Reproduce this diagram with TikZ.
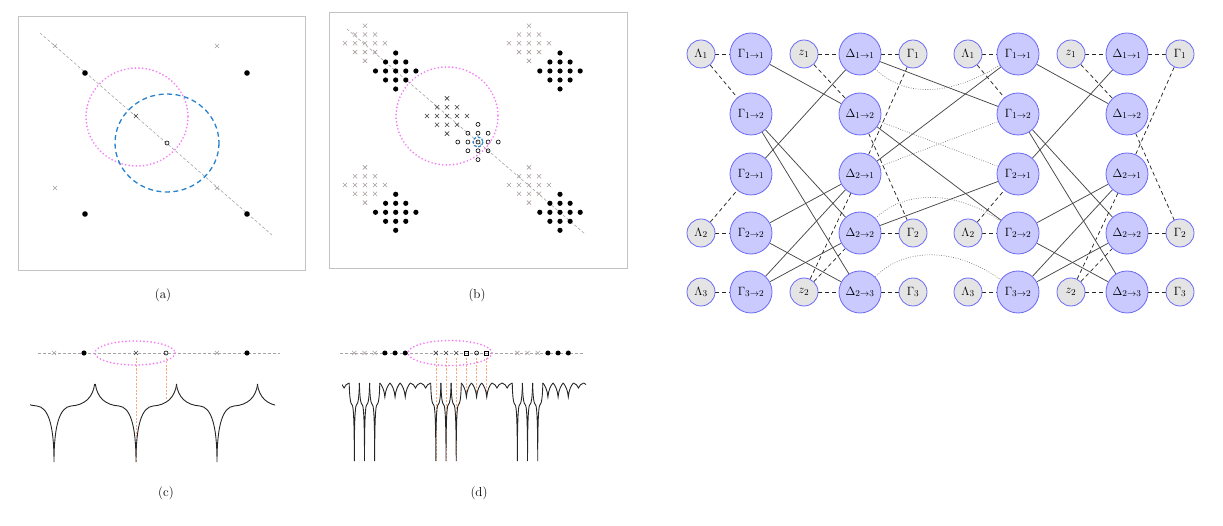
\documentclass[tikz,border=0pt]{standalone}
\usetikzlibrary{backgrounds}
\definecolor{nodeblue}{RGB}{105,105,245}
\definecolor{nodefill}{RGB}{202,202,255}
\definecolor{smallfill}{RGB}{228,228,228}
\definecolor{magdot}{RGB}{245,125,245}
\definecolor{bluedash}{RGB}{40,130,205}
\definecolor{orangeln}{RGB}{245,170,130}
\definecolor{xgray}{RGB}{170,160,158}
\definecolor{boxgray}{RGB}{195,195,195}
\newcommand\xmk[3]{\draw[#3] (#1-2.1,#2-2.1) -- (#1+2.1,#2+2.1) (#1-2.1,#2+2.1) -- (#1+2.1,#2-2.1);}
\newcommand\xdiam[3]{%
 \foreach \ii in {-2,...,2}{\foreach \jj in {-2,...,2}{%
  \pgfmathtruncatemacro\ss{abs(\ii)+abs(\jj)}%
  \pgfmathsetmacro\px{#1+10*\ii}\pgfmathsetmacro\py{#2+8.8*\jj}%
  \ifnum\ss<3 \xmk{\px}{\py}{#3}\fi}}}
\newcommand\ddiam[2]{%
 \foreach \ii in {-2,...,2}{\foreach \jj in {-2,...,2}{%
  \pgfmathtruncatemacro\ss{abs(\ii)+abs(\jj)}%
  \pgfmathsetmacro\px{#1+10.1*\ii}\pgfmathsetmacro\py{#2+9*\jj}%
  \ifnum\ss<3 \fill (\px,\py) circle (2.6);\fi}}}
\newcommand\odiam[2]{%
 \foreach \ii in {-2,...,2}{\foreach \jj in {-2,...,2}{%
  \pgfmathtruncatemacro\ss{abs(\ii)+abs(\jj)}%
  \pgfmathsetmacro\px{#1+10.1*\ii}\pgfmathsetmacro\py{#2+8.8*\jj}%
  \ifnum\ss<3 \draw[line width=0.6pt] (\px,\py) circle (2);\fi}}}
\newcommand\deepdip[3]{%
 \draw[curve] (#1-#2,#3) .. controls (#1-0.95*#2,#3+14) and (#1-0.75*#2,#3+21) .. (#1-0.42*#2,#3+22)
  .. controls (#1-0.15*#2,#3+23) and (#1,#3+40) .. (#1,#3+78)
  .. controls (#1,#3+40) and (#1+0.15*#2,#3+23) .. (#1+0.42*#2,#3+22)
  .. controls (#1+0.75*#2,#3+21) and (#1+0.95*#2,#3+14) .. (#1+#2,#3);}
\newcommand\meddip[4]{%
 \draw[curve] (#1-#2,#3) .. controls (#1-0.6*#2,#3+0.15*#4) and (#1-0.1*#2,#3+0.5*#4) .. (#1,#3+#4)
  .. controls (#1+0.1*#2,#3+0.5*#4) and (#1+0.6*#2,#3+0.15*#4) .. (#1+#2,#3);}
\begin{document}
\begin{tikzpicture}[x=1pt,y=-1pt,
 bignode/.style={circle,draw=nodeblue,fill=nodefill,line width=0.8pt,minimum size=42pt,inner sep=0pt,font=\fontsize{13}{15}\selectfont},
 smallnode/.style={circle,draw=nodeblue,fill=smallfill,line width=0.8pt,minimum size=28pt,inner sep=0pt,font=\fontsize{13}{15}\selectfont},
 dashe/.style={line width=0.75pt,black!85,dash pattern=on 4pt off 3pt},
 sol/.style={line width=0.75pt,black!72},
 dotedge/.style={line width=0.7pt,black!50,dash pattern=on 0.8pt off 1.6pt},
 boxline/.style={draw=boxgray,line width=1pt},
 diagline/.style={gray!70,line width=0.6pt,dash pattern=on 3pt off 2pt},
 magline/.style={magdot,line width=1.9pt,line cap=round,dash pattern=on 0pt off 3.6pt},
 blueline/.style={bluedash,line width=1.3pt,dash pattern=on 5pt off 3.5pt},
 orline/.style={orangeln,line width=0.6pt,dash pattern=on 2pt off 1.5pt},
 xg/.style={xgray,line width=0.6pt},
 xd/.style={black!75,line width=0.6pt},
 curve/.style={black!85,line width=0.9pt},
 captext/.style={font=\fontsize{13}{15}\selectfont}]
\useasboundingbox (0,0) rectangle (1223,526);

% ---------- panel (a)
\draw[boxline] (18,17) rectangle (305,271);
\draw[diagline] (40,33) -- (272,235);
\xmk{55}{46}{xg}\xmk{217}{46}{xg}\xmk{55}{188}{xg}\xmk{217}{188}{xg}
\xmk{136}{116}{xd}
\foreach \p in {(85,73),(247,73),(85,214),(247,214)} \fill \p circle (2.8);
\draw[line width=0.6pt] (167,143) circle (2);
\draw[magline] (137,117) ellipse [x radius=51,y radius=49];
\draw[blueline] (167,143) ellipse [x radius=52,y radius=49];
\node[captext] (capa) at (163,295) {(a)};

% ---------- panel (b)
\draw[boxline] (329,13) rectangle (627,269);
\draw[diagline] (347,29) -- (585,234);
\xdiam{365}{43.3}{xg}\xdiam{529}{43.3}{xg}\xdiam{365}{185}{xg}\xdiam{529}{185}{xg}
\ddiam{395.7}{71}\ddiam{560}{71}\ddiam{395.7}{212.3}\ddiam{560}{212.3}
\xdiam{447}{116}{xd}
\odiam{478}{142}
\draw[magline] (447,116) ellipse [x radius=51,y radius=49];
\draw[bluedash,line width=1.2pt,dash pattern=on 3pt off 1.5pt] (478,142) circle (5);
\node[captext] (capb) at (477,295) {(b)};

% ---------- panel (c)
\draw[diagline] (38,353) -- (280,353);
\xmk{54}{353}{xg}\xmk{217}{353}{xg}\xmk{136}{353}{xd}
\fill (84,353) circle (2.6); \fill (247,353) circle (2.6);
\draw[line width=0.6pt] (166,353) circle (2);
\draw[magline] (135,353) ellipse [x radius=40,y radius=12];
\draw[orline] (136,358) -- (136,462);
\draw[orline] (166,358) -- (166,400);
\begin{scope}
\clip (30,370) rectangle (275,470);
\foreach \c in {-27,54,136,217,298} {\deepdip{\c}{40.7}{384}}
\end{scope}
\node[captext] (capc) at (166,493) {(c)};

% ---------- panel (d)
\draw[diagline] (340,353) -- (585,353);
\foreach \k in {0,1,2,16,17,18} {\pgfmathsetmacro\px{354.3+10.19*\k}\xmk{\px}{353}{xg}}
\foreach \k in {8,9,10} {\pgfmathsetmacro\px{354.3+10.19*\k}\xmk{\px}{353}{xd}}
\foreach \k in {3,4,5,19,20,21} {\pgfmathsetmacro\px{354.3+10.19*\k}\fill (\px,353) circle (2.5);}
\foreach \k in {11,13} {\pgfmathsetmacro\px{354.3+10.19*\k}\draw[line width=0.6pt] (\px-2,351) rectangle (\px+2,355);}
\draw[line width=0.6pt] (476.6,353) circle (2);
\draw[magline] (450,353) ellipse [x radius=42,y radius=12.5];
\foreach \k in {8,9,10} {\pgfmathsetmacro\px{354.3+10.19*\k}\draw[orline] (\px,358) -- (\px,461);}
\foreach \k in {11,12,13} {\pgfmathsetmacro\px{354.3+10.19*\k}\draw[orline] (\px,358) -- (\px,397);}
\begin{scope}
\clip (342,370) rectangle (586,470);
\foreach \k in {0,1,2,8,9,10,16,17,18} {\pgfmathsetmacro\cc{354.3+10.19*\k}\deepdip{\cc}{5.1}{383}}
\foreach \k in {3,4,5,11,12,13,19,20,21} {\pgfmathsetmacro\cc{354.3+10.19*\k}\meddip{\cc}{5.1}{383}{14}}
\foreach \k in {-1,6,7,14,15,22,23} {\pgfmathsetmacro\cc{354.3+10.19*\k}\meddip{\cc}{5.1}{383}{5}}
\end{scope}
\node[captext] (capd) at (479,493) {(d)};

% ---------- graph
\foreach \bk/\o in {A/0,B/267}{
 \node[smallnode] (\bk L1) at (701+\o,54) {$\Lambda_1$};
 \node[bignode] (\bk G11) at (751+\o,54) {$\Gamma_{1\to1}$};
 \node[smallnode] (\bk z1) at (804+\o,54) {$z_1$};
 \node[bignode] (\bk D11) at (860+\o,54) {$\Delta_{1\to1}$};
 \node[smallnode] (\bk g1) at (913+\o,54) {$\Gamma_1$};
 \node[bignode] (\bk G12) at (751+\o,114) {$\Gamma_{1\to2}$};
 \node[bignode] (\bk D12) at (860+\o,114) {$\Delta_{1\to2}$};
 \node[bignode] (\bk G21) at (751+\o,174) {$\Gamma_{2\to1}$};
 \node[bignode] (\bk D21) at (860+\o,174) {$\Delta_{2\to1}$};
 \node[smallnode] (\bk L2) at (701+\o,233) {$\Lambda_2$};
 \node[bignode] (\bk G22) at (751+\o,233) {$\Gamma_{2\to2}$};
 \node[bignode] (\bk D22) at (860+\o,233) {$\Delta_{2\to2}$};
 \node[smallnode] (\bk g2) at (913+\o,233) {$\Gamma_2$};
 \node[smallnode] (\bk L3) at (701+\o,292) {$\Lambda_3$};
 \node[bignode] (\bk G32) at (751+\o,292) {$\Gamma_{3\to2}$};
 \node[smallnode] (\bk z2) at (804+\o,292) {$z_2$};
 \node[bignode] (\bk D23) at (860+\o,292) {$\Delta_{2\to3}$};
 \node[smallnode] (\bk g3) at (913+\o,292) {$\Gamma_3$};
 \begin{scope}[on background layer]
  \draw[dashe] (\bk L1) -- (\bk G11);
  \draw[dashe] (\bk z1) -- (\bk D11);
  \draw[dashe] (\bk D11) -- (\bk g1);
  \draw[dashe] (\bk L2) -- (\bk G22);
  \draw[dashe] (\bk D22) -- (\bk g2);
  \draw[dashe] (\bk L3) -- (\bk G32);
  \draw[dashe] (\bk z2) -- (\bk D23);
  \draw[dashe] (\bk D23) -- (\bk g3);
  \draw[dashe] (\bk L1) -- (\bk G12);
  \draw[dashe] (\bk z1) -- (\bk D12);
  \draw[dashe] (\bk L2) -- (\bk G21);
  \draw[dashe] (\bk g1) -- (\bk D21);
  \draw[dashe] (\bk D12) -- (\bk g2);
  \draw[dashe] (\bk z2) -- (\bk D21);
  \draw[dashe] (\bk z2) -- (\bk D22);
  \draw[sol] (\bk G11) -- (\bk D12);
  \draw[sol] (\bk G21) -- (\bk D11);
  \draw[sol] (\bk G12) -- (\bk D22);
  \draw[sol] (\bk G12) -- (\bk D23);
  \draw[sol] (\bk G22) -- (\bk D21);
  \draw[sol] (\bk G22) -- (\bk D23);
  \draw[sol] (\bk G32) -- (\bk D21);
  \draw[sol] (\bk G32) -- (\bk D22);
 \end{scope}
}
\begin{scope}[on background layer]
 \draw[sol] (AD11) -- (BG12);
 \draw[sol] (AD21) -- (BG11);
 \draw[sol] (AD12) -- (BG22);
 \draw[sol] (AD22) -- (BG21);
 \draw[dotedge] (AD11) .. controls (905,98) and (950,96) .. (BG11);
 \draw[dotedge] (AD12) -- (BG21);
 \draw[dotedge] (AD21) -- (BG12);
 \draw[dotedge] (AD22) .. controls (905,190) and (955,190) .. (BG22);
 \draw[dotedge] (AD23) .. controls (905,247) and (955,247) .. (BG32);
\end{scope}
\end{tikzpicture}
\end{document}
